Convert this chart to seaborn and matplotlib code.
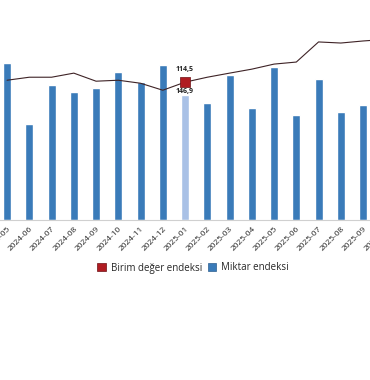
import numpy as np
import pandas as pd
import matplotlib
matplotlib.use("Agg")
import matplotlib.pyplot as plt
import seaborn as sns
from matplotlib.patches import Patch

# data
months = ['2024-05', '2024-06', '2024-07', '2024-08', '2024-09', '2024-10',
          '2024-11', '2024-12', '2025-01', '2025-02', '2025-03', '2025-04',
          '2025-05', '2025-06', '2025-07', '2025-08', '2025-09', '2025-10']
miktar = [184.8, 113.7, 158.8, 150.5, 155.2, 174.2, 162.3, 182.5, 146.9,
          137.4, 170.6, 131.5, 180.1, 123.2, 165.9, 126.8, 135.1, np.nan]
birim = [116.1, 118.6, 118.6, 122.0, 115.3, 116.1, 113.6, 107.8, 114.5,
         118.6, 122.0, 125.3, 129.5, 131.2, 147.9, 147.0, 148.7, 150.0]
highlight = '2025-01'
legend_labels = ['Birim değer endeksi', 'Miktar endeksi']

bar_blue = '#3a7bb9'
bar_light = '#a9c1e6'
red = '#b01c22'
line_col = '#3e2326'

df = pd.DataFrame({'ay': months, 'miktar': miktar, 'birim': birim})

sns.set_style('white')
plt.rcParams['font.family'] = ['Open Sans', 'DejaVu Sans']

fig = plt.figure(figsize=(3.7, 3.8), dpi=100)
ax = fig.add_axes([-0.011, 0.421, 1.0824, 0.487])

pal = {m: (bar_light if m == highlight else bar_blue) for m in months}
sns.barplot(data=df, x='ay', y='miktar', hue='ay', palette=pal, order=months,
            width=0.36, legend=False, saturation=1, ax=ax)
ax.set_xlim(-0.5, len(months) - 0.5)
ax.set_ylim(0, 218)
ax.set_xlabel('')
ax.set_ylabel('')
ax.set_yticks([])
for s in ['top', 'left', 'right']:
    ax.spines[s].set_visible(False)
ax.spines['bottom'].set_color('#d0d0d0')
ax.spines['bottom'].set_linewidth(0.8)
ax.tick_params(axis='x', length=0, labelsize=6, pad=4, colors='#222222')
for lab in ax.get_xticklabels():
    lab.set_rotation(45)
    lab.set_ha('right')
    lab.set_rotation_mode('anchor')

ax2 = ax.twinx()
sns.lineplot(data=df, x='ay', y='birim', color=line_col, linewidth=0.8,
             sort=False, ax=ax2)
hl = df[df['ay'] == highlight]
sns.scatterplot(data=hl, x='ay', y='birim', marker='s', s=55, color=red,
                edgecolor='#6e1014', linewidth=0.5, zorder=5, ax=ax2)
ax2.set_ylim(0, 153.7)
ax2.set_xlim(-0.5, len(months) - 0.5)
ax2.set_yticks([])
ax2.set_xlabel('')
ax2.set_ylabel('')
for s in ax2.spines.values():
    s.set_visible(False)

hb = hl['birim'].iloc[0]
hm = hl['miktar'].iloc[0]
ax2.annotate(f'{hb:.1f}'.replace('.', ','), xy=(highlight, hb), xytext=(0, 9),
             textcoords='offset points', ha='center', va='center',
             fontsize=5, fontweight='bold', color='#222222')
ax2.annotate(f'{hm:.1f}'.replace('.', ','), xy=(highlight, hb), xytext=(0, -6.5),
             textcoords='offset points', ha='center', va='center',
             fontsize=5, fontweight='bold', color='#222222')

handles = [Patch(facecolor=red, edgecolor='#6e1014', linewidth=0.5),
           Patch(facecolor=bar_blue, edgecolor='#2d5f90', linewidth=0.5)]
fig.legend(handles, legend_labels, loc='center', ncol=2,
           bbox_to_anchor=(193 / 370, 1 - 268 / 380), frameon=False,
           fontsize=7, handlelength=0.9, handleheight=0.9,
           handletextpad=0.5, columnspacing=0.6)

fig.savefig('out.png', dpi=100)
